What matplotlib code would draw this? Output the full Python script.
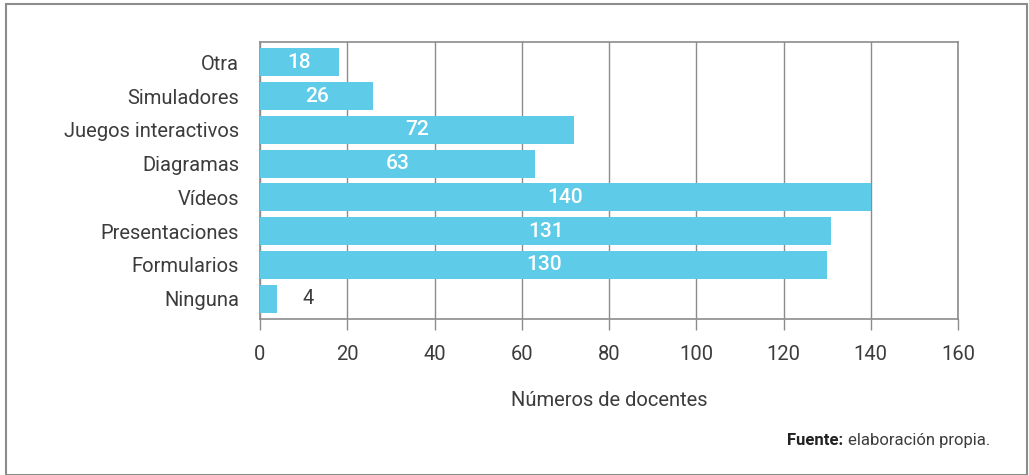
import matplotlib.pyplot as plt
from matplotlib.patches import Rectangle

categorias = ['Otra', 'Simuladores', 'Juegos interactivos', 'Diagramas',
              'Vídeos', 'Presentaciones', 'Formularios', 'Ninguna']
docentes = [18, 26, 72, 63, 140, 131, 130, 4]
xticks = [0, 20, 40, 60, 80, 100, 120, 140, 160]

plt.rcParams['font.family'] = ['Roboto', 'DejaVu Sans']

azul = '#5ecbe9'
gris = '#8c8c8c'
texto = '#3c3c3c'

fig = plt.figure(figsize=(10.29, 4.75), dpi=100)
ax = fig.add_axes([0.2527, 0.3284, 0.931 - 0.2527, 0.9116 - 0.3284])

ypos = list(range(len(categorias)))
bars = ax.barh(ypos, docentes, height=0.83, color=azul, zorder=3)

ax.set_xlim(0, 160)
ax.set_ylim(len(categorias) - 0.4, -0.6)
ax.set_xticks(xticks)
ax.set_yticks(ypos)
ax.set_yticklabels(categorias, fontsize=14.5, color=texto, fontweight='normal')
ax.set_xticklabels([str(t) for t in xticks], fontsize=14.5, color=texto, fontweight='normal')
ax.tick_params(axis='y', length=0, pad=15)
ax.tick_params(axis='x', length=8, width=1, color=gris, pad=11)
ax.grid(axis='x', color=gris, linewidth=1, zorder=0)
for s in ax.spines.values():
    s.set_color(gris)
    s.set_linewidth(1.2)

# etiquetas de valor
for b, v in zip(bars, docentes):
    yc = b.get_y() + b.get_height() / 2
    if v > 10:
        ax.text(v / 2, yc, str(v), ha='center', va='center', color='white',
                fontsize=15, fontweight='medium', zorder=4)
    else:
        ax.annotate(str(v), (v, yc), xytext=(18, 0), textcoords='offset points',
                    ha='left', va='center', color=texto, fontsize=14.5,
                    fontweight='normal', zorder=4)

ax.set_xlabel('Números de docentes', fontsize=14.5, color=texto,
              fontweight='normal', labelpad=19)

fig.text(0.962, 0.073, 'Fuente:', ha='right', va='center', fontsize=12,
         color='#222222', fontweight='bold', alpha=0)
fig.text(0.962, 0.073, r'elaboración propia.', ha='right', va='center',
         fontsize=12, color=texto, fontweight='normal')

# marco exterior
fig.patches.append(Rectangle((6 / 1029, 0.0), 1021 / 1029, 1 - 4 / 475,
                             transform=fig.transFigure, fill=False,
                             edgecolor=gris, linewidth=1.5))

fig.canvas.draw()
r = fig.canvas.get_renderer()
t2 = fig.texts[1]
bb = t2.get_window_extent(r)
x0 = bb.x0 / fig.bbox.width
fig.texts[0].set_position((x0 - 0.004, 0.073))
fig.texts[0].set_alpha(1)

fig.savefig('out.png', dpi=100)
